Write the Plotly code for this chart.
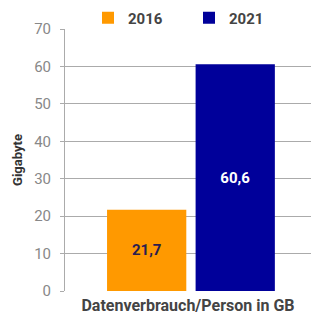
import plotly.graph_objects as go

category = ["Datenverbrauch/Person in GB"]
years = ["2016", "2021"]
values_2016 = [21.7]
values_2021 = [60.6]
y_ticks = [0, 10, 20, 30, 40, 50, 60, 70]

FONT = "Roboto, Arial"

def fmt(v):
    return f"{v:.1f}".replace(".", ",")

fig = go.Figure()
fig.add_trace(go.Bar(
    name=years[0], x=category, y=values_2016,
    marker=dict(color="#FF9900", line=dict(width=0)),
    text=[fmt(v) for v in values_2016],
    textposition="inside", insidetextanchor="middle",
    textfont=dict(family=FONT, size=15, color="#2b1d4f", weight="bold"),
))
fig.add_trace(go.Bar(
    name=years[1], x=category, y=values_2021,
    marker=dict(color="#00009A", line=dict(width=0)),
    text=[fmt(v) for v in values_2021],
    textposition="inside", insidetextanchor="middle",
    textfont=dict(family=FONT, size=15, color="white", weight="bold"),
))

fig.update_layout(
    width=312, height=322,
    margin=dict(l=65, r=1, t=29, b=31),
    paper_bgcolor="white", plot_bgcolor="white",
    barmode="group", bargap=0.28, bargroupgap=0.105,
    font=dict(family=FONT),
    showlegend=True,
    legend=dict(orientation="h", x=0.0935, xanchor="left", y=1.105, yanchor="top",
                bgcolor="rgba(0,0,0,0)",
                font=dict(family=FONT, size=15, color="#444444", weight="bold"),
                traceorder="normal", entrywidth=56),
    xaxis=dict(showticklabels=False, showgrid=False, zeroline=False, showline=False,
               automargin=False, range=[-0.512, 0.488],
               title=dict(text="Datenverbrauch/Person in GB", standoff=8,
                          font=dict(family=FONT, size=16, color="#444444", weight="bold"))),
    yaxis=dict(range=[0, 70], tickvals=y_ticks, showgrid=True, gridcolor="#ABABAB", gridwidth=1,
               zeroline=False, showline=True, linecolor="#ABABAB", linewidth=1,
               automargin=False,
               ticks="outside", ticklen=4, tickcolor="#ABABAB", ticklabelstandoff=6,
               tickfont=dict(family=FONT, size=15, color="#888888"),
               title=dict(text="Gigabyte", standoff=8,
                          font=dict(family=FONT, size=13, color="#333333", weight="bold"))),
)

fig.write_html("out.html", config={"displayModeBar": False},
               post_script="document.body.style.margin='0';")
